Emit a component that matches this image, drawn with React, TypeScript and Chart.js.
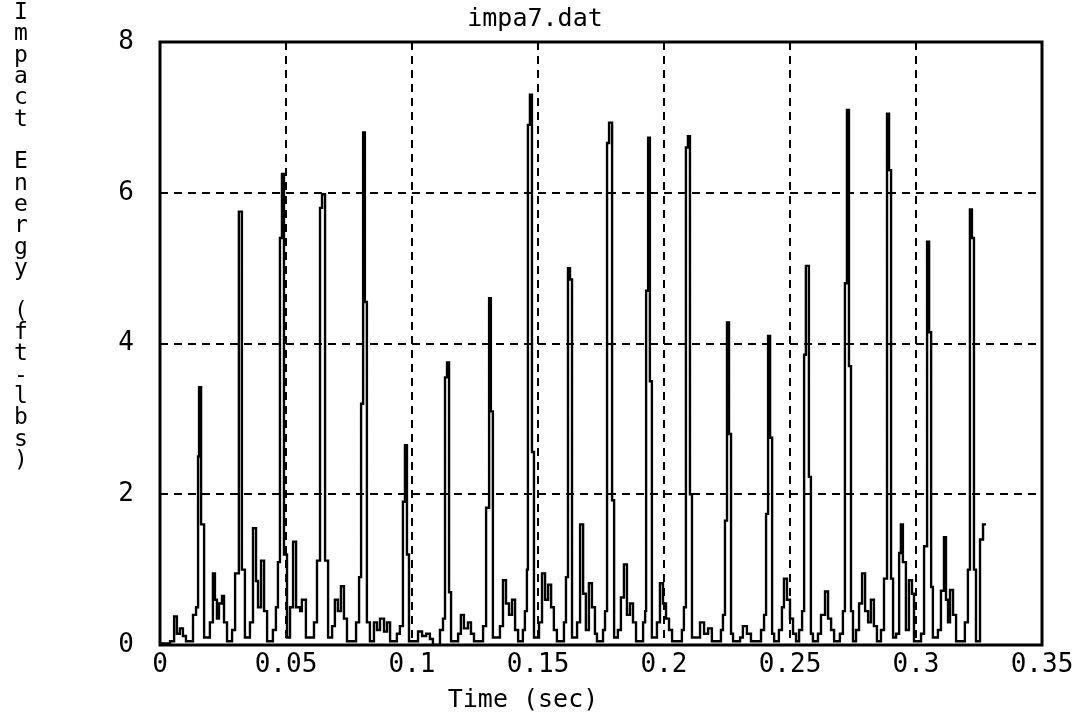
import React, { useEffect, useRef } from "react";
import { Chart, registerables } from "chart.js";

Chart.register(...registerables);

// Time of each step (milliseconds) and the impact energy (ft-lbs) held from that time on
const timesMs = [
  0.4, 4.0, 5.6, 6.7, 7.9, 9.1, 10.3, 13.1, 14.3, 15.1, 15.5, 16.3, 17.5,
  19.8, 21.0, 21.8, 22.6, 23.4, 24.6, 25.4, 26.6,
  28.6, 29.8, 31.3, 32.5, 33.7,
  35.7, 36.9, 38.1, 38.9, 40.1, 41.3, 42.5,
  44.8, 46.0, 46.8, 47.6, 48.4, 49.2, 50.4,
  51.6, 52.8, 54.0, 55.6, 56.3, 57.9,
  61.1, 62.3, 63.5, 64.3, 65.5, 66.7,
  68.3, 69.4, 70.6, 71.8, 73.0, 74.2,
  77.8, 79.0, 79.8, 80.6, 81.3, 82.1, 83.3,
  84.9, 86.1, 87.3, 88.9, 90.1, 91.3,
  94.0, 95.2, 96.4, 97.2, 98.0, 98.8,
  102.4, 104.0, 105.6, 107.1, 108.3,
  111.1, 112.3, 113.1, 113.9, 114.7, 115.5,
  118.3, 119.4, 120.6, 122.2, 123.4, 124.6,
  128.2, 129.4, 130.6, 131.3, 132.1,
  134.9, 136.1, 137.3, 138.5, 139.7, 140.9, 142.1,
  144.0, 144.8, 145.6, 146.0, 146.8, 147.6, 148.4,
  150.4, 151.6, 152.8, 154.0, 155.2, 156.3, 157.5,
  160.3, 161.1, 161.9, 162.7, 163.5,
  165.5, 166.7, 167.9, 169.0, 170.2, 171.4, 172.6, 173.4,
  175.8, 176.6, 177.4, 178.2, 179.4, 180.2,
  181.7, 182.9, 184.1, 185.3, 186.5, 187.7, 188.9,
  191.7, 192.5, 192.9, 193.7, 194.4, 195.2,
  197.2, 198.4, 199.6, 200.8, 202.0, 203.2,
  207.1, 207.9, 208.7, 209.5, 210.3, 211.1,
  213.1, 214.3, 215.9, 217.5, 219.0,
  222.6, 223.4, 224.2, 225.0, 225.8, 226.6, 227.4,
  230.2, 231.3, 232.9, 234.5,
  238.5, 239.7, 240.5, 241.3, 242.1, 242.9, 243.7,
  245.6, 246.8, 247.6, 248.8, 250.0, 251.2, 252.4,
  253.6, 254.8, 255.6, 256.3, 257.5, 258.3, 259.1,
  261.1, 262.3, 263.9, 265.1, 266.3, 267.5,
  269.8, 271.0, 271.8, 272.6, 273.4, 274.2, 275.0,
  276.2, 277.4, 278.6, 279.8, 281.0, 282.1, 283.3, 284.5,
  286.1, 287.3, 288.5, 289.3, 290.1, 290.9,
  292.1, 293.3, 294.0, 294.8, 296.0, 297.2, 298.4, 299.2,
  302.0, 303.2, 304.4, 305.2, 306.0, 306.7,
  308.7, 309.9, 311.1, 311.9, 312.7, 313.5, 314.7, 315.9,
  319.4, 320.6, 321.4, 322.2, 323.0, 323.8,
  325.4, 326.6, 327.8,
];

const energyFtLbs = [
  0.02, 0.05, 0.38, 0.15, 0.22, 0.12, 0.05, 0.4, 0.5, 2.5, 3.42, 1.6, 0.1,
  0.3, 0.95, 0.6, 0.35, 0.55, 0.65, 0.3, 0.05,
  0.2, 0.95, 5.75, 1.0, 0.1,
  0.3, 1.55, 0.85, 0.5, 1.12, 0.45, 0.05,
  0.2, 0.5, 1.1, 5.4, 6.25, 1.2, 0.1,
  0.5, 1.37, 0.5, 0.45, 0.6, 0.1,
  0.3, 1.12, 5.8, 5.98, 1.12, 0.1,
  0.25, 0.6, 0.45, 0.78, 0.35, 0.05,
  0.3, 0.9, 3.2, 6.8, 4.55, 0.3, 0.05,
  0.3, 0.2, 0.35, 0.18, 0.3, 0.05,
  0.15, 0.25, 1.9, 2.65, 1.2, 0.05,
  0.18, 0.12, 0.15, 0.08, 0.0,
  0.2, 0.35, 3.55, 3.75, 0.7, 0.05,
  0.15, 0.4, 0.22, 0.3, 0.15, 0.05,
  0.25, 1.82, 4.6, 3.1, 0.1,
  0.25, 0.86, 0.55, 0.4, 0.6, 0.2, 0.05,
  0.2, 0.45, 1.0, 6.9, 7.3, 2.56, 0.1,
  0.3, 0.95, 0.6, 0.8, 0.5, 0.2, 0.05,
  0.3, 0.9, 5.0, 4.85, 0.1,
  0.3, 1.6, 0.68, 0.2, 0.82, 0.5, 0.15, 0.05,
  0.2, 0.45, 6.66, 6.93, 1.92, 0.1,
  0.2, 0.63, 1.07, 0.4, 0.55, 0.3, 0.05,
  0.3, 0.45, 4.7, 6.73, 3.5, 0.1,
  0.3, 0.82, 0.55, 0.35, 0.2, 0.05,
  0.2, 0.5, 6.6, 6.75, 2.0, 0.1,
  0.1, 0.3, 0.15, 0.22, 0.05,
  0.2, 0.4, 1.65, 4.28, 2.8, 0.15, 0.05,
  0.1, 0.25, 0.15, 0.05,
  0.2, 0.4, 1.74, 4.1, 2.75, 0.15, 0.05,
  0.2, 0.5, 0.88, 0.6, 0.35, 0.15, 0.05,
  0.2, 0.45, 3.85, 5.03, 2.23, 0.15, 0.05,
  0.15, 0.4, 0.71, 0.35, 0.2, 0.05,
  0.15, 0.45, 4.8, 7.1, 3.7, 0.45, 0.05,
  0.2, 0.55, 0.95, 0.45, 0.3, 0.6, 0.25, 0.05,
  0.2, 0.88, 7.05, 6.3, 0.88, 0.1,
  0.15, 1.22, 1.6, 1.1, 0.2, 0.86, 0.68, 0.05,
  0.15, 1.31, 5.35, 4.15, 0.77, 0.1,
  0.2, 0.72, 1.43, 0.6, 0.3, 0.73, 0.4, 0.05,
  0.3, 1.0, 5.78, 5.4, 1.0, 0.05,
  1.4, 1.6, 1.6,
];

const xTickLabels = ["0", "0.05", "0.1", "0.15", "0.2", "0.25", "0.3", "0.35"];
const yTickLabels = ["0", "2", "4", "6", "8"];
const chartTitle = "impa7.dat";
const xAxisTitle = "Time (sec)";
const yAxisTitle = "Impact Energy (ft-lbs)";

const FONT = '"DejaVu Sans Mono", "Liberation Mono", monospace';

export default function App() {
  const canvasRef = useRef<HTMLCanvasElement | null>(null);

  useEffect(() => {
    const canvas = canvasRef.current;
    if (!canvas) return;

    const points = timesMs.map((t, i) => ({ x: t / 1000, y: energyFtLbs[i] }));

    const textPlugin = {
      id: "textsAndFrame",
      afterDraw(chart: any) {
        const { ctx, chartArea } = chart;
        ctx.save();
        ctx.setLineDash([]);
        ctx.lineWidth = 3;
        ctx.strokeStyle = "#000";
        ctx.strokeRect(chartArea.left, chartArea.top, chartArea.right - chartArea.left, chartArea.bottom - chartArea.top);
        ctx.fillStyle = "#000";
        ctx.textAlign = "center";
        ctx.textBaseline = "middle";
        ctx.font = `23px ${FONT}`;
        yAxisTitle.split("").forEach((ch, i) => {
          if (ch !== " ") ctx.fillText(ch, 21, 13 + i * 21.33);
        });
        ctx.font = `25px ${FONT}`;
        ctx.fillText(chartTitle, 535, 19);
        ctx.fillText(xAxisTitle, 523, 700);
        ctx.restore();
      },
    };

    const chart = new Chart(canvas, {
      type: "line",
      data: {
        datasets: [
          {
            data: points,
            borderColor: "#000",
            borderWidth: 2.4,
            pointRadius: 0,
            stepped: true,
            fill: false,
          },
        ],
      },
      options: {
        animation: false,
        responsive: false,
        devicePixelRatio: 1,
        layout: { padding: { left: 0, right: 38, top: 42, bottom: 0 } },
        plugins: {
          legend: { display: false },
          tooltip: { enabled: false },
          title: { display: false },
        },
        scales: {
          x: {
            type: "linear",
            min: 0,
            max: 0.35,
            ticks: {
              stepSize: 0.05,
              color: "#000",
              font: { family: FONT, size: 26 },
              padding: 5,
              maxRotation: 0,
              autoSkip: false,
              callback: (_v: any, i: number) => xTickLabels[i],
            },
            grid: {
              drawTicks: false,
              lineWidth: 2,
              color: (c: any) =>
                c.index === 0 || c.index === xTickLabels.length - 1 ? "rgba(0,0,0,0)" : "#000",
            },
            border: { display: false, dash: [8, 6] },
            afterFit: (s: any) => {
              s.height = 74;
            },
          },
          y: {
            type: "linear",
            min: 0,
            max: 8,
            ticks: {
              stepSize: 2,
              color: "#000",
              font: { family: FONT, size: 26 },
              padding: 26,
              callback: (_v: any, i: number) => yTickLabels[i],
            },
            grid: {
              drawTicks: false,
              lineWidth: 2,
              color: (c: any) =>
                c.index === 0 || c.index === yTickLabels.length - 1 ? "rgba(0,0,0,0)" : "#000",
            },
            border: { display: false, dash: [8, 6] },
            afterFit: (s: any) => {
              s.width = 160;
            },
          },
        },
      },
      plugins: [textPlugin],
    });

    return () => chart.destroy();
  }, []);

  return (
    <div style={{ position: "fixed", left: 0, top: 0, width: 1080, height: 719, background: "#fff" }}>
      <canvas ref={canvasRef} width={1080} height={719} style={{ width: 1080, height: 719, display: "block" }} />
    </div>
  );
}
